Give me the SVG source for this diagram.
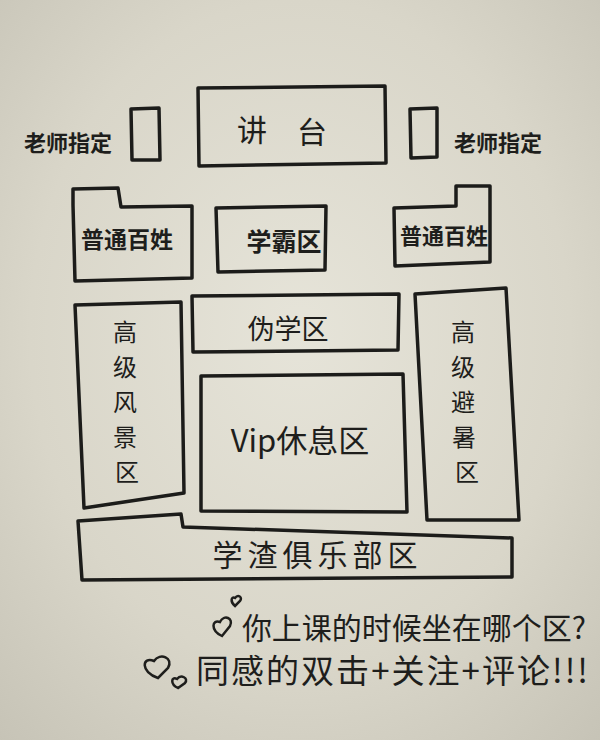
<svg xmlns="http://www.w3.org/2000/svg" width="600" height="740" viewBox="0 0 600 740">
<defs>
<radialGradient id="bg" cx="0.5" cy="0.45" r="0.75">
<stop offset="0" stop-color="#e6e4d9"/>
<stop offset="0.6" stop-color="#d9d6c9"/>
<stop offset="1" stop-color="#c6c3b6"/>
</radialGradient>
<style>
.box{fill:none;stroke:#1c1c1a;stroke-width:3.5;stroke-linejoin:round;stroke-linecap:round}
.t{font-family:"Noto Sans CJK SC","Noto Sans",sans-serif;fill:#1e1e1c;text-anchor:middle;dominant-baseline:central}
.heart{fill:none;stroke:#1e1e1c;stroke-width:2.5}
</style>
</defs>
<rect width="600" height="740" fill="url(#bg)"/>

<g id="jiangtai">
<polygon class="box" points="198,88 385,86 386,163 199,166"/>
<text class="t" x="252" y="128" font-size="30">讲</text>
<text class="t" x="312" y="130" font-size="30">台</text>
</g>

<g id="left-seat">
<polygon class="box" points="131,109 159,108 160,160 132,160"/>
<text class="t" x="68" y="141" font-size="22" font-weight="bold">老师指定</text>
</g>

<g id="right-seat">
<polygon class="box" points="410,109 437,108 437,157 411,158"/>
<text class="t" x="498" y="141" font-size="22" font-weight="bold">老师指定</text>
</g>

<g id="putong-left">
<polygon class="box" points="73,205 73,189 118,188 121,207 192,206 192,278 75,281"/>
<text class="t" x="127" y="238" font-size="23" font-weight="bold">普通百姓</text>
</g>

<g id="xueba">
<polygon class="box" points="216,208 326,206 325,270 218,272"/>
<text class="t" x="284" y="240" font-size="25" font-weight="bold">学霸区</text>
</g>

<g id="putong-right">
<polygon class="box" points="394,208 456,206 456,186 490,186 490,262 395,266"/>
<text class="t" x="444" y="234" font-size="22" font-weight="bold">普通百姓</text>
</g>

<g id="weixue">
<polygon class="box" points="192,296 399,294 398,350 193,352"/>
<text class="t" x="288" y="327" font-size="27">伪学区</text>
</g>

<g id="fengjing">
<polygon class="box" points="75,305 181,302 184,493 84,508"/>
<text class="t" x="125" y="330" font-size="24">高</text>
<text class="t" x="125" y="365" font-size="24">级</text>
<text class="t" x="125" y="400" font-size="24">风</text>
<text class="t" x="125" y="435" font-size="24">景</text>
<text class="t" x="127" y="470" font-size="24">区</text>
</g>

<g id="vip">
<polygon class="box" points="201,376 403,374 407,512 201,511"/>
<text class="t" x="300" y="438" font-size="31">Vip休息区</text>
</g>

<g id="bishu">
<polygon class="box" points="415,294 506,288 519,520 427,520"/>
<text class="t" x="463" y="330" font-size="24">高</text>
<text class="t" x="463" y="365" font-size="24">级</text>
<text class="t" x="463" y="400" font-size="24">避</text>
<text class="t" x="464" y="435" font-size="24">暑</text>
<text class="t" x="467" y="470" font-size="24">区</text>
</g>

<g id="xuezha">
<polygon class="box" points="78,521 181,514 183,527 512,538 512,577 82,580"/>
<text class="t" x="315" y="553" font-size="30" textLength="205" lengthAdjust="spacing">学渣俱乐部区</text>
</g>

<g id="footer">
<path class="heart" d="M222,636 C210,630 212,619 220,622 C224,614 234,618 230,626 Z"/>
<path class="heart" d="M235,606 C230,602 231,596 235,598 C238,594 243,597 240,601 Z"/>
<text class="t" x="414" y="626" font-size="30">你上课的时候坐在哪个区?</text>
<path class="heart" d="M158,678 C140,672 142,656 154,661 C160,652 174,658 168,668 Z"/>
<path class="heart" d="M178,688 C170,684 171,676 177,679 C181,674 189,678 185,683 Z"/>
<text class="t" x="392" y="669" font-size="33" textLength="392" lengthAdjust="spacing">同感的双击+关注+评论!!!</text>
</g>
</svg>
